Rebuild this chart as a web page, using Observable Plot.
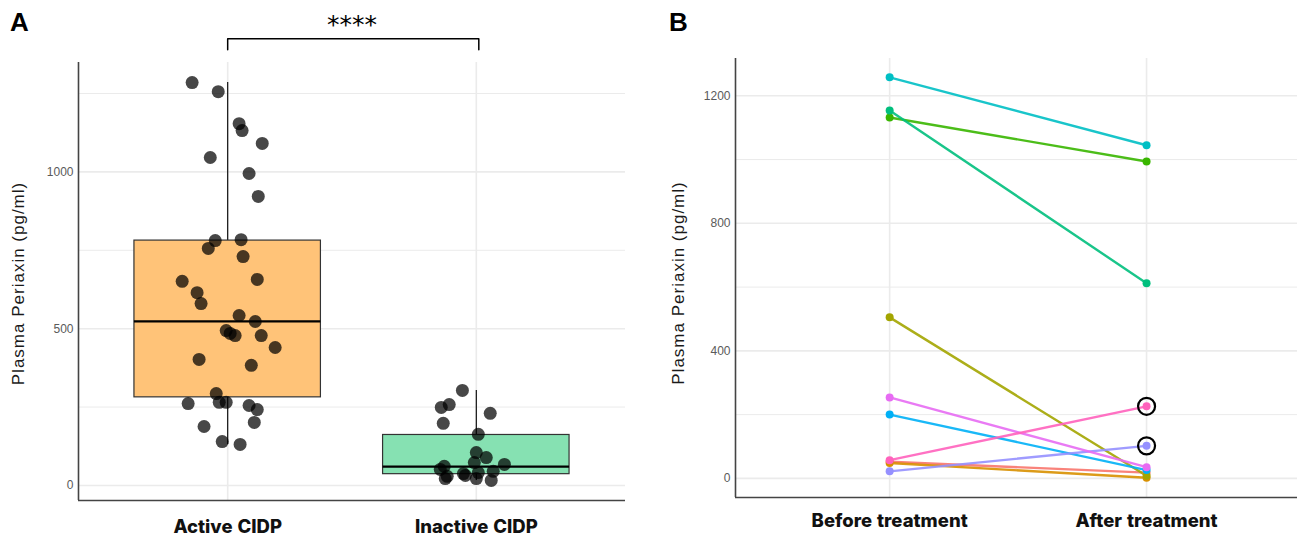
<!DOCTYPE html>
<html>
<head>
<meta charset="utf-8">
<script src="https://cdn.jsdelivr.net/npm/d3@7"></script>
<script src="https://cdn.jsdelivr.net/npm/@observablehq/plot@0.6"></script>
<style>
  body { margin: 0; background: #fff; }
  #wrap { position: relative; width: 1297px; height: 536px; overflow: hidden; background: #fff; }
  .panel { position: absolute; top: 0; }
  .tag { position: absolute; font-family: "Liberation Sans", Arial, sans-serif; font-weight: bold; font-size: 26px; line-height: 26px; color: #000; }
  .ytitle { letter-spacing: 1px; }
</style>
</head>
<body>
<div id="wrap"></div>
<script>
// ---------- Panel A data ----------
const groupsA = ["Active CIDP", "Inactive CIDP"];
const activeValues = [1285, 1256, 1154, 1132, 1091, 1046, 995, 922, 781, 784, 756, 730, 651, 657, 615, 580, 542, 523, 494, 485, 478, 478, 440, 402, 383, 293, 261, 265, 265, 255, 242, 201, 188, 140, 131];
const activeJitter = [-0.143, -0.038, 0.046, 0.058, 0.139, -0.070, 0.086, 0.123, -0.050, 0.054, -0.078, 0.062, -0.183, 0.119, -0.123, -0.107, 0.046, 0.111, -0.006, 0.010, 0.030, 0.135, 0.191, -0.115, 0.095, -0.046, -0.159, -0.034, -0.006, 0.086, 0.119, 0.107, -0.095, -0.022, 0.050];
const inactiveValues = [303, 249, 258, 230, 198, 163, 105, 89, 73, 67, 61, 51, 29, 22, 38, 32, 41, 45, 22, 16];
const inactiveJitter = [-0.056, -0.141, -0.109, 0.056, -0.133, 0.008, 0.000, 0.040, -0.008, 0.113, -0.129, -0.145, -0.117, -0.125, -0.052, -0.044, 0.008, 0.068, 0.000, 0.060];
const boxLow = [131, 16];
const boxQ1 = [281, 36];
const boxMedian = [523, 60];
const boxQ3 = [781, 161];
const boxHigh = [1285, 303];
const boxColors = ["#FFC378", "#86E1B2"];
const significance = "****";
const yTicksA = [0, 500, 1000];
const yMinorA = [250, 750, 1250];

// ---------- Panel B data ----------
const timepoints = ["Before treatment", "After treatment"];
const subjects = ["s1", "s2", "s3", "s4", "s5", "s6", "s7", "s8", "s9", "s10"];
const beforeValues = [52, 48, 505, 1132, 1154, 1258, 200, 22, 254, 57];
const afterValues = [18, 2, 8, 994, 612, 1045, 26, 102, 35, 226];
const subjectColors = ["#F8766D", "#D89000", "#A3A500", "#39B600", "#00BF7D", "#00BFC4", "#00B0F6", "#9590FF", "#E76BF3", "#FF62BC"];
const circledSubjects = ["s8", "s10"];
const yTicksB = [0, 400, 800, 1200];
const yMinorB = [200, 600, 1000];

const yTitle = "Plasma Periaxin (pg/ml)";

// ---------- build tables ----------
const pointsA = [
  ...activeValues.map((v, i) => ({g: 1, x: 1 + activeJitter[i], y: v})),
  ...inactiveValues.map((v, i) => ({g: 2, x: 2 + inactiveJitter[i], y: v}))
];
const boxes = groupsA.map((name, i) => ({
  g: i + 1, name, low: boxLow[i], q1: boxQ1[i], med: boxMedian[i], q3: boxQ3[i], high: boxHigh[i], fill: boxColors[i]
}));
const bracketTop = 1425, bracketBottom = 1390;
const bracket = [{x: 1, y: bracketBottom}, {x: 1, y: bracketTop}, {x: 2.01, y: bracketTop}, {x: 2.01, y: bracketBottom}];

const pairs = [];
subjects.forEach((s, i) => {
  pairs.push({id: s, t: 1, y: beforeValues[i]});
  pairs.push({id: s, t: 2, y: afterValues[i]});
});
const circled = pairs.filter(d => d.t === 2 && circledSubjects.includes(d.id));

const tickFont = "Liberation Sans, Arial, sans-serif";
const gridColor = "#EBEBEB";
const axisColor = "#444";
const fmt = d => String(d);

// ---------- Panel A ----------
const yDomA = [-48, 1349];
const plotA = Plot.plot({
  width: 650, height: 536,
  marginLeft: 78, marginRight: 25, marginTop: 62, marginBottom: 36,
  style: {fontFamily: tickFont, fontSize: "12px", background: "transparent", overflow: "visible"},
  x: {domain: [0.4, 2.6], axis: null},
  y: {domain: yDomA, axis: null},
  marks: [
    Plot.ruleY(yMinorA, {stroke: gridColor, strokeWidth: 1}),
    Plot.ruleY(yTicksA, {stroke: gridColor, strokeWidth: 1.6}),
    Plot.ruleX([1, 2], {stroke: gridColor, strokeWidth: 1.6}),
    Plot.ruleX([0.4], {y1: yDomA[0], y2: yDomA[1], stroke: axisColor, strokeWidth: 1.6}),
    Plot.ruleY([yDomA[0]], {x1: 0.4, x2: 2.6, stroke: axisColor, strokeWidth: 1.6}),
    Plot.axisY({ticks: yTicksA, tickFormat: fmt, tickSize: 0, tickPadding: 5, fill: "#5a5a5a", fontSize: 12, label: null}),
    Plot.axisX({ticks: [1, 2], tickFormat: d => groupsA[d - 1], tickSize: 0, tickPadding: 19, fontSize: 18.5, fontWeight: 800, fill: "#111", fontFamily: "Inter, sans-serif", label: null}),
    Plot.ruleX(boxes, {x: "g", y1: "q3", y2: "high", stroke: "#111", strokeWidth: 1.2}),
    Plot.ruleX(boxes, {x: "g", y1: "low", y2: "q1", stroke: "#111", strokeWidth: 1.2}),
    Plot.rect(boxes, {x1: d => d.g - 0.375, x2: d => d.g + 0.375, y1: "q1", y2: "q3", fill: "fill", stroke: "#333", strokeWidth: 1.2}),
    Plot.ruleY(boxes, {y: "med", x1: d => d.g - 0.375, x2: d => d.g + 0.375, stroke: "#000", strokeWidth: 2.2}),
    Plot.dot(pointsA, {x: "x", y: "y", r: 6.5, fill: "#000", fillOpacity: 0.72, stroke: "none"}),
    Plot.line(bracket, {x: "x", y: "y", stroke: "#000", strokeWidth: 1.5}),
    Plot.text([significance], {x: 1.5, y: 1470, text: d => d, fontSize: 25, fill: "#000", fontFamily: "DejaVu Sans, sans-serif"}),
    Plot.text([yTitle], {frameAnchor: "left", textAnchor: "middle", text: d => d, rotate: -90, dx: -60, dy: 2, fontSize: 17, fill: "#1a1a1a", fontFamily: "Liberation Sans, Arial, sans-serif", className: "ytitle"})
  ],
  color: {type: "identity"}
});

// ---------- Panel B ----------
const yDomB = [-60, 1317];
const plotB = Plot.plot({
  width: 647, height: 536,
  marginLeft: 85, marginRight: 0, marginTop: 58, marginBottom: 39,
  style: {fontFamily: tickFont, fontSize: "12px", background: "transparent", overflow: "visible"},
  x: {domain: [0.4, 2.5875], axis: null},
  y: {domain: yDomB, axis: null},
  color: {domain: subjects, range: subjectColors},
  marks: [
    Plot.ruleY(yMinorB, {stroke: gridColor, strokeWidth: 1}),
    Plot.ruleY(yTicksB, {stroke: gridColor, strokeWidth: 1.6}),
    Plot.ruleX([1, 2], {stroke: gridColor, strokeWidth: 1.6}),
    Plot.ruleX([0.4], {y1: yDomB[0], y2: yDomB[1], stroke: axisColor, strokeWidth: 1.6}),
    Plot.ruleY([yDomB[0]], {x1: 0.4, x2: 2.5875, stroke: axisColor, strokeWidth: 1.6}),
    Plot.axisY({ticks: yTicksB, tickFormat: fmt, tickSize: 0, tickPadding: 5, fill: "#5a5a5a", fontSize: 12, label: null}),
    Plot.axisX({ticks: [1, 2], tickFormat: d => timepoints[d - 1], tickSize: 0, tickPadding: 16, fontSize: 18.5, fontWeight: 800, fill: "#111", fontFamily: "Inter, sans-serif", label: null}),
    Plot.line(pairs, {x: "t", y: "y", z: "id", stroke: "id", strokeWidth: 2.4, strokeOpacity: 0.9}),
    Plot.dot(pairs, {x: "t", y: "y", fill: "id", r: 4, stroke: "none"}),
    Plot.dot(circled, {x: "t", y: "y", r: 8.5, fill: "none", stroke: "#000", strokeWidth: 2.2}),
    Plot.text([yTitle], {frameAnchor: "left", textAnchor: "middle", text: d => d, rotate: -90, dx: -57, dy: 5, fontSize: 17, fill: "#1a1a1a", fontFamily: "Liberation Sans, Arial, sans-serif", className: "ytitle"})
  ]
});

const wrap = document.getElementById("wrap");
const pa = document.createElement("div"); pa.className = "panel"; pa.style.left = "0px"; pa.appendChild(plotA);
const pb = document.createElement("div"); pb.className = "panel"; pb.style.left = "650px"; pb.appendChild(plotB);
wrap.appendChild(pa); wrap.appendChild(pb);
const tA = document.createElement("div"); tA.className = "tag"; tA.textContent = "A"; tA.style.left = "10px"; tA.style.top = "9px";
const tB = document.createElement("div"); tB.className = "tag"; tB.textContent = "B"; tB.style.left = "669px"; tB.style.top = "9px";
wrap.appendChild(tA); wrap.appendChild(tB);
</script>
</body>
</html>
